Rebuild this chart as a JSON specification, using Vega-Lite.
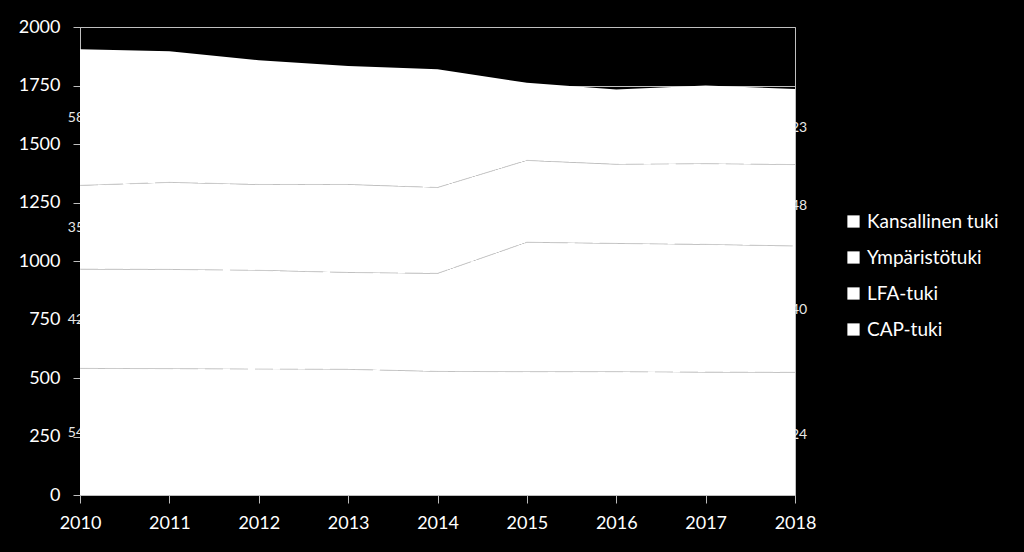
{
  "$schema": "https://vega.github.io/schema/vega-lite/v6.json",
  "width": 715,
  "height": 468,
  "autosize": {"type": "none"},
  "padding": {"left": 80, "top": 27, "right": 229, "bottom": 57},
  "background": "black",
  "config": {
    "view": {"stroke": "#bfbfbf", "strokeWidth": 1},
    "font": "Lato",
    "axis": {
      "labelColor": "white",
      "labelFontSize": 18,
      "labelFont": "Lato",
      "domainColor": "#bfbfbf",
      "tickColor": "#bfbfbf",
      "gridColor": "#bfbfbf",
      "title": null
    },
    "legend": {
      "labelColor": "white",
      "labelFontSize": 19,
      "labelFont": "Lato"
    }
  },
  "data": {
    "values": [
      {"year": "2010", "series": "CAP-tuki", "k": 1, "v": 541},
      {"year": "2011", "series": "CAP-tuki", "k": 1, "v": 540},
      {"year": "2012", "series": "CAP-tuki", "k": 1, "v": 538},
      {"year": "2013", "series": "CAP-tuki", "k": 1, "v": 537},
      {"year": "2014", "series": "CAP-tuki", "k": 1, "v": 528},
      {"year": "2015", "series": "CAP-tuki", "k": 1, "v": 527},
      {"year": "2016", "series": "CAP-tuki", "k": 1, "v": 527},
      {"year": "2017", "series": "CAP-tuki", "k": 1, "v": 525},
      {"year": "2018", "series": "CAP-tuki", "k": 1, "v": 524},
      {"year": "2010", "series": "LFA-tuki", "k": 2, "v": 424},
      {"year": "2011", "series": "LFA-tuki", "k": 2, "v": 424},
      {"year": "2012", "series": "LFA-tuki", "k": 2, "v": 422},
      {"year": "2013", "series": "LFA-tuki", "k": 2, "v": 414},
      {"year": "2014", "series": "LFA-tuki", "k": 2, "v": 419},
      {"year": "2015", "series": "LFA-tuki", "k": 2, "v": 553},
      {"year": "2016", "series": "LFA-tuki", "k": 2, "v": 548},
      {"year": "2017", "series": "LFA-tuki", "k": 2, "v": 546},
      {"year": "2018", "series": "LFA-tuki", "k": 2, "v": 540},
      {"year": "2010", "series": "Ympäristötuki", "k": 3, "v": 358},
      {"year": "2011", "series": "Ympäristötuki", "k": 3, "v": 372},
      {"year": "2012", "series": "Ympäristötuki", "k": 3, "v": 367},
      {"year": "2013", "series": "Ympäristötuki", "k": 3, "v": 376},
      {"year": "2014", "series": "Ympäristötuki", "k": 3, "v": 367},
      {"year": "2015", "series": "Ympäristötuki", "k": 3, "v": 350},
      {"year": "2016", "series": "Ympäristötuki", "k": 3, "v": 338},
      {"year": "2017", "series": "Ympäristötuki", "k": 3, "v": 345},
      {"year": "2018", "series": "Ympäristötuki", "k": 3, "v": 348},
      {"year": "2010", "series": "Kansallinen tuki", "k": 4, "v": 582},
      {"year": "2011", "series": "Kansallinen tuki", "k": 4, "v": 560},
      {"year": "2012", "series": "Kansallinen tuki", "k": 4, "v": 531},
      {"year": "2013", "series": "Kansallinen tuki", "k": 4, "v": 506},
      {"year": "2014", "series": "Kansallinen tuki", "k": 4, "v": 505},
      {"year": "2015", "series": "Kansallinen tuki", "k": 4, "v": 332},
      {"year": "2016", "series": "Kansallinen tuki", "k": 4, "v": 320},
      {"year": "2017", "series": "Kansallinen tuki", "k": 4, "v": 334},
      {"year": "2018", "series": "Kansallinen tuki", "k": 4, "v": 323}
    ]
  },
  "transform": [
    {"stack": "v", "groupby": ["year"], "sort": [{"field": "k", "order": "ascending"}], "as": ["v0", "v1"]},
    {"calculate": "(datum.v0 + datum.v1) / 2", "as": "mid"}
  ],
  "encoding": {
    "x": {
      "field": "year",
      "type": "ordinal",
      "scale": {"type": "point", "padding": 0},
      "axis": {"labelAngle": 0, "tickSize": 8, "labelPadding": 11, "domain": true, "grid": false}
    }
  },
  "layer": [
    {
      "transform": [{"filter": "datum.year == '2010' || datum.year == '2018'"}],
      "mark": {"type": "text", "fontSize": 14, "color": "#e8e8e8", "align": "center", "baseline": "middle", "font": "Lato", "dy": 1},
      "encoding": {
        "y": {"field": "mid", "type": "quantitative", "scale": {"domain": [0, 2000]}},
        "text": {"field": "v", "type": "quantitative"}
      }
    },
    {
      "mark": {"type": "area", "opacity": 1},
      "encoding": {
        "y": {
          "field": "v1",
          "type": "quantitative",
          "scale": {"domain": [0, 2000]},
          "axis": {"values": [0, 250, 500, 750, 1000, 1250, 1500, 1750, 2000], "format": "d", "tickSize": 7, "labelPadding": 13, "grid": true}
        },
        "y2": {"field": "v0"},
        "color": {
          "field": "series",
          "type": "nominal",
          "scale": {
            "domain": ["Kansallinen tuki", "Ympäristötuki", "LFA-tuki", "CAP-tuki"],
            "range": ["white", "white", "white", "white"]
          },
          "legend": {
            "title": null,
            "orient": "none",
            "legendX": 764,
            "legendY": 185,
            "symbolType": "square",
            "symbolSize": 150,
            "symbolStrokeWidth": 0,
            "symbolFillColor": "white",
            "rowPadding": 16,
            "labelOffset": 4
          }
        }
      }
    },
    {
      "transform": [{"filter": "datum.k < 4"}],
      "mark": {"type": "line", "color": "#cccccc", "strokeWidth": 1, "strokeDash": [18, 7]},
      "encoding": {
        "y": {"field": "v1", "type": "quantitative", "scale": {"domain": [0, 2000]}},
        "detail": {"field": "series", "type": "nominal"}
      }
    }
  ]
}
